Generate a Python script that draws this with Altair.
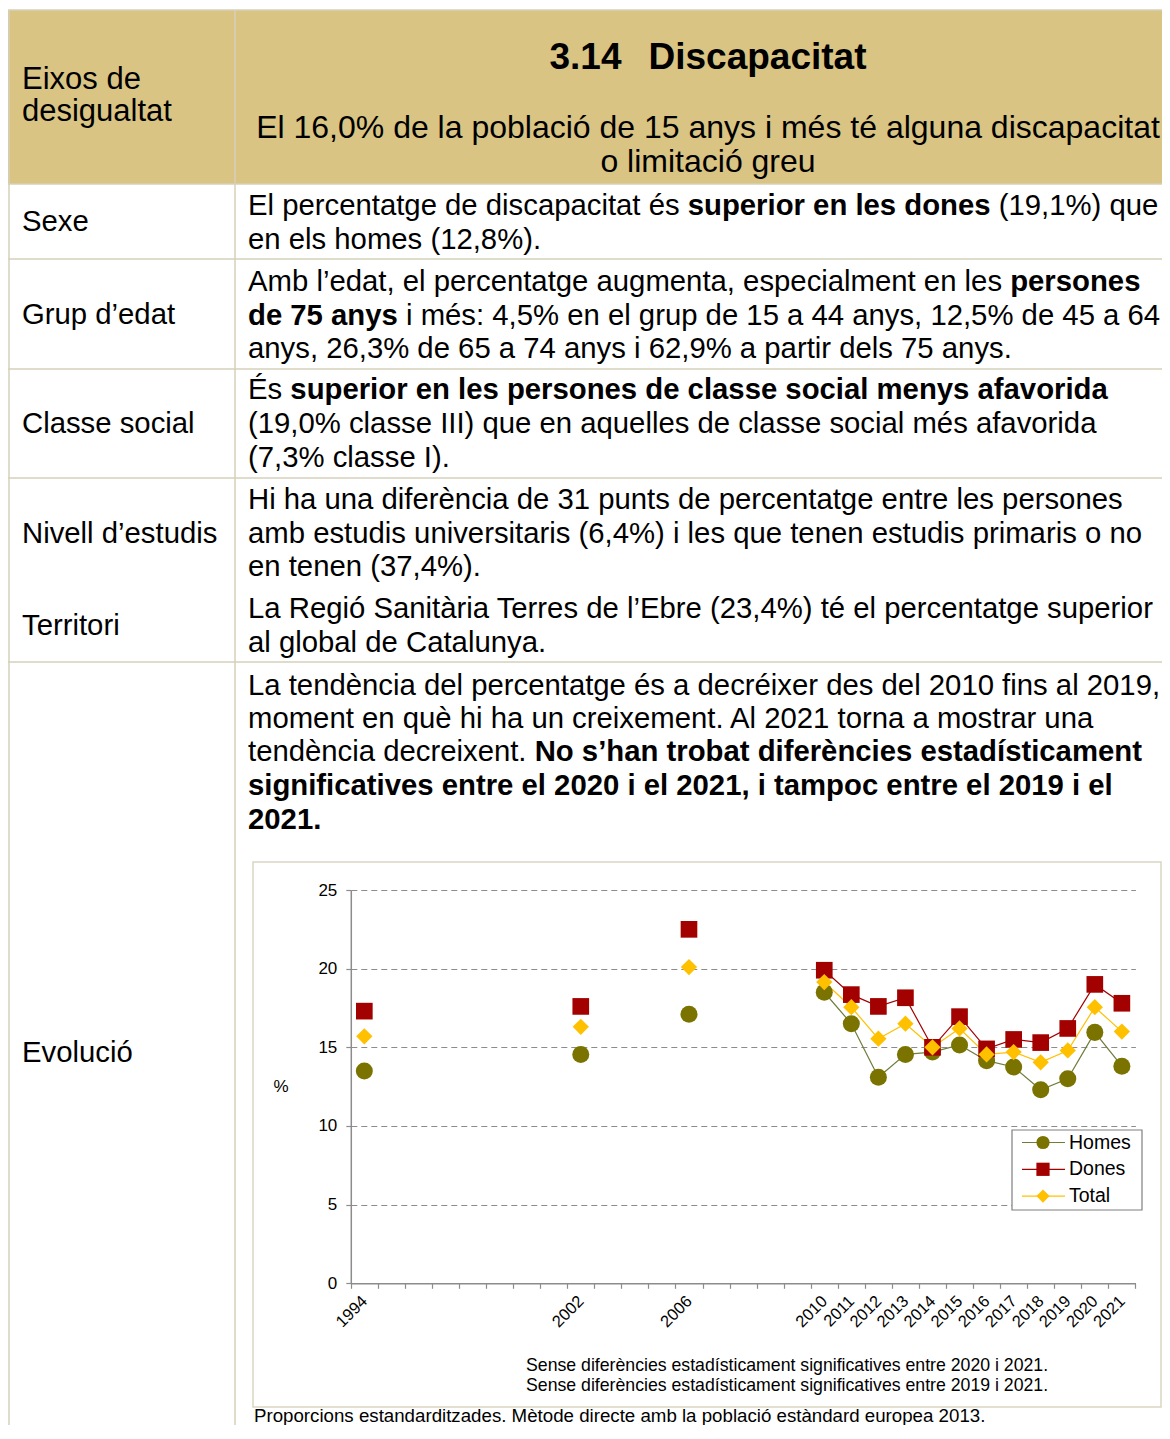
import altair as alt
import pandas as pd

# ---------------- values ----------------
years = [1994, 2002, 2006, 2010, 2011, 2012, 2013, 2014, 2015, 2016, 2017, 2018, 2019, 2020, 2021]
# category slot on the (Excel) category axis: empty categories separate the early surveys
slots = [0, 8, 12, 17, 18, 19, 20, 21, 22, 23, 24, 25, 26, 27, 28]
homes = [13.5, 14.55, 17.1, 18.5, 16.5, 13.1, 14.55, 14.7, 15.15, 14.15, 13.75, 12.3, 13.0, 15.95, 13.8]
dones = [17.3, 17.6, 22.5, 19.9, 18.35, 17.6, 18.15, 15.0, 16.95, 14.9, 15.5, 15.3, 16.2, 19.0, 17.8]
total = [15.7, 16.3, 20.1, 19.15, 17.55, 15.55, 16.5, 15.0, 16.2, 14.55, 14.7, 14.05, 14.8, 17.55, 16.0]
series = ["Homes", "Dones", "Total"]
y_ticks = [0, 5, 10, 15, 20, 25]
y_title = "%"

# ---------------- texts ----------------
header_left = ["Eixos de", "desigualtat"]
title_number = "3.14"
title_word = "Discapacitat"
subtitle = ["El 16,0% de la població de 15 anys i més té alguna discapacitat", "o limitació greu"]
row_labels = ["Sexe", "Grup d’edat", "Classe social", "Nivell d’estudis", "Territori", "Evolució"]
N, B = False, True
paragraphs = [
    [[("El percentatge de discapacitat és ", N), ("superior en les dones", B), (" (19,1%) que", N)],
     [("en els homes (12,8%).", N)]],
    [[("Amb l’edat, el percentatge augmenta, especialment en les ", N), ("persones", B)],
     [("de 75 anys", B), (" i més: 4,5% en el grup de 15 a 44 anys, 12,5% de 45 a 64", N)],
     [("anys, 26,3% de 65 a 74 anys i 62,9% a partir dels 75 anys.", N)]],
    [[("És ", N), ("superior en les persones de classe social menys afavorida", B)],
     [("(19,0% classe III) que en aquelles de classe social més afavorida", N)],
     [("(7,3% classe I).", N)]],
    [[("Hi ha una diferència de 31 punts de percentatge entre les persones", N)],
     [("amb estudis universitaris (6,4%) i les que tenen estudis primaris o no", N)],
     [("en tenen (37,4%).", N)]],
    [[("La Regió Sanitària Terres de l’Ebre (23,4%) té el percentatge superior", N)],
     [("al global de Catalunya.", N)]],
    [[("La tendència del percentatge és a decréixer des del 2010 fins al 2019,", N)],
     [("moment en què hi ha un creixement. Al 2021 torna a mostrar una", N)],
     [("tendència decreixent. ", N), ("No s’han trobat diferències estadísticament", B)],
     [("significatives entre el 2020 i el 2021, i tampoc entre el 2019 i el", B)],
     [("2021.", B)]],
]
chart_notes = ["Sense diferències estadísticament significatives entre 2020 i 2021.",
               "Sense diferències estadísticament significatives entre 2019 i 2021."]
source_note = "Proporcions estandarditzades. Mètode directe amb la població estàndard europea 2013."

# ---------------- styles / layout (page pixels) ----------------
FONT = "Liberation Sans"
OFF = 8
W, H = 1154, 1417
marker_colors = ["#7A7300", "#A30000", "#FFC000"]
line_colors = ["#6F7D3A", "#A30000", "#FFC000"]
shapes = ["circle", "square", "diamond"]
marker_sizes = [290, 265, 320]
TAN = "#D9C484"
BORDER = "#D6D1BA"
GRID = "#8C8C8C"

SIZE_BODY, SIZE_HEAD, SIZE_SUB, SIZE_TITLE = 29.3, 31, 32, 37
TEXT_X, LABEL_X = 248, 22
header_left_y = [80, 112]
title_y, title_cx, title_gap = 58, 708, 27
subtitle_y = [128, 162]
row_label_y = [222, 315, 424, 534, 626, 1053]
para_line_y = [[206, 240], [282, 316, 349], [390, 424, 458], [500, 534, 567], [609, 643],
               [686, 719, 752, 786, 820]]
row_lines_y = [184, 259, 369, 478, 662]
X0, X1 = 350.8, 1135.4     # plot x range
Y0, Y25 = 1283.3, 890.0    # plot y for 0 and 25
FRAME = (253, 1161, 862, 1407)
notes_y = [1366, 1386]
source_y = 1416


def P(v):
    return v - OFF


def _table(groups):
    d = {}
    for chars, w in groups:
        for c in chars:
            d[c] = w
    return d


REG_W = _table([(" ,.:;!/[]ftIíì", 278), ("ijl’‘", 222), ("'", 191), ("r()-", 333),
                ("ckvsxyzJç", 500), ("abdeghnopqu0123456789àáèéòóú?", 556), ("FTZ", 611),
                ("ABEKPSVXYÉÀÈ", 667), ("CDHNRUw", 722), ("GOQ", 778), ("mM", 833), ("%", 889),
                ("W", 944), ("L", 556)])
BOLD_W = _table([(" ,.;!ijlIíì’/", 278), ("'", 238), ("ft():-", 333), ("r", 389), ("z", 500),
                 ("acekvsxyJçàáèé0123456789", 556), ("bdghnopquòóúFTZL", 611),
                 ("EPSVXYÉ", 667), ("ABCDHKNRUÀ", 722), ("wGOQ", 778), ("M", 833),
                 ("m%", 889), ("W", 944)])


def text_width(s, size, bold):
    tbl = BOLD_W if bold else REG_W
    return sum(tbl.get(c, 556) for c in s) * size / 1000.0


# ---------------- build text items ----------------
items = []


def add(x, y, text, size, bold=False, align="left"):
    items.append(dict(x=P(x), y=P(y), text=text, size=size, bold=bold, align=align))


for t, yy in zip(header_left, header_left_y):
    add(LABEL_X, yy, t, SIZE_HEAD)
tw = text_width(title_number, SIZE_TITLE, True) + title_gap + text_width(title_word, SIZE_TITLE, True)
tx = title_cx - tw / 2
add(tx, title_y, title_number, SIZE_TITLE, True)
add(tx + text_width(title_number, SIZE_TITLE, True) + title_gap, title_y, title_word, SIZE_TITLE, True)
for t, yy in zip(subtitle, subtitle_y):
    add(title_cx, yy, t, SIZE_SUB, False, "center")
for t, yy in zip(row_labels, row_label_y):
    add(LABEL_X, yy, t, SIZE_BODY)
for para, ys in zip(paragraphs, para_line_y):
    for line, yy in zip(para, ys):
        cx = TEXT_X
        for seg, bold in line:
            lead = len(seg) - len(seg.lstrip(" "))
            sx = cx + text_width(" " * lead, SIZE_BODY, bold)
            add(sx, yy, seg.strip(), SIZE_BODY, bold)
            cx += text_width(seg, SIZE_BODY, bold)
for t, yy in zip(chart_notes, notes_y):
    add(526, yy, t, 17.7)
add(254, source_y, source_note, 18.7)
add(281, 1087, y_title, 17, False, "center")
text_df = pd.DataFrame(items)

one = pd.DataFrame({"k": [0]})
layers = []

# table background and borders
layers.append(alt.Chart(one).mark_rect(color=TAN).encode(
    x=alt.value(P(8)), x2=alt.value(P(1170)), y=alt.value(P(10)), y2=alt.value(P(184))))


def hline(y, xa=8, xb=1170):
    return alt.Chart(one).mark_rule(color=BORDER, strokeWidth=1.5).encode(
        x=alt.value(P(xa)), x2=alt.value(P(xb)), y=alt.value(P(y)))


def vline(x, ya=10, yb=1460):
    return alt.Chart(one).mark_rule(color=BORDER, strokeWidth=1.5).encode(
        x=alt.value(P(x)), y=alt.value(P(ya)), y2=alt.value(P(yb)))


layers.append(hline(10))
for ry in row_lines_y:
    layers.append(hline(ry))
layers.append(vline(9))
layers.append(vline(235))

# chart frame
layers.append(alt.Chart(one).mark_rect(fill="transparent", stroke="#DAD6C4", strokeWidth=1.5).encode(
    x=alt.value(P(FRAME[0])), x2=alt.value(P(FRAME[1])), y=alt.value(P(FRAME[2])), y2=alt.value(P(FRAME[3]))))

# texts
for (bold, align), g in text_df.groupby(["bold", "align"]):
    layers.append(alt.Chart(g.reset_index(drop=True)).mark_text(
        font=FONT, fontWeight="bold" if bold else "normal", align=align, baseline="middle",
        color="black").encode(
        x=alt.X("x:Q", scale=None, axis=None),
        y=alt.Y("y:Q", scale=None, axis=None),
        size=alt.Size("size:Q", scale=None, legend=None),
        text="text:N"))

# legend (custom, line + marker)
layers.append(alt.Chart(one).mark_rect(fill="white", stroke="#7F7F7F", strokeWidth=1.2).encode(
    x=alt.value(P(1012)), x2=alt.value(P(1142)), y=alt.value(P(1130)), y2=alt.value(P(1210))))
for i, (name, mc, lc, sh) in enumerate(zip(series, marker_colors, line_colors, shapes)):
    ly = P(1142.5 + i * 26.8)
    layers.append(alt.Chart(one).mark_rule(color=lc, strokeWidth=1.2).encode(
        x=alt.value(P(1022)), x2=alt.value(P(1065)), y=alt.value(ly)))
    layers.append(alt.Chart(one).mark_point(shape=sh, filled=True, color=mc, size=175, opacity=1).encode(
        x=alt.value(P(1043)), y=alt.value(ly)))
    layers.append(alt.Chart(one).mark_text(text=name, font=FONT, fontSize=19.5, align="left",
                                           baseline="middle", color="black").encode(
        x=alt.value(P(1069)), y=alt.value(ly)))

# ---------------- data chart ----------------
rows = []
for name, vals in zip(series, [homes, dones, total]):
    for yr, sl, v in zip(years, slots, vals):
        rows.append(dict(serie=name, year=yr, slot=sl, value=v))
df = pd.DataFrame(rows)

n_slots = max(slots) + 1
half = (X1 - X0) / n_slots / 2
boundaries = [s - 0.5 for s in range(n_slots + 1)]
label_expr = " : ".join(f"datum.value == {s - 0.5} ? '{y}'" for s, y in zip(slots, years)) + " : ''"

x_enc = alt.X("slot:Q",
              scale=alt.Scale(domain=[-0.5, n_slots - 0.5], range=[P(X0), P(X1)], nice=False, zero=False),
              axis=alt.Axis(values=boundaries, labelExpr=label_expr, labelAngle=315, labelAlign="right",
                            labelBaseline="middle", labelOffset=half, labelPadding=10, tickSize=5,
                            tickColor=GRID, domainColor=GRID, domainWidth=1.5, tickWidth=1.2,
                            grid=False, title=None, labelFont=FONT, labelFontSize=16.5,
                            labelColor="black", labelFlush=False, labelOverlap=False,
                            offset=-(H - P(Y0))))
y_enc = alt.Y("value:Q",
              scale=alt.Scale(domain=[0, 25], range=[P(Y0), P(Y25)], nice=False, zero=False),
              axis=alt.Axis(values=y_ticks, grid=True, gridColor=GRID, gridDash=[6, 4], gridWidth=1.2,
                            domainColor=GRID, domainWidth=1.5, tickColor=GRID, tickSize=5, tickWidth=1.2,
                            labelFont=FONT, labelFontSize=17, labelColor="black", labelPadding=9,
                            labelFlush=False, labelOverlap=False, title=None,
                            offset=-P(X0)))

lines = alt.Chart(df).transform_filter(alt.datum.year >= 2010).mark_line(strokeWidth=1.2).encode(
    x=x_enc, y=y_enc,
    stroke=alt.Stroke("serie:N", scale=alt.Scale(domain=series, range=line_colors), legend=None),
    order="slot:Q")
points = alt.Chart(df).mark_point(filled=True, opacity=1, strokeWidth=0).encode(
    x=x_enc, y=y_enc,
    fill=alt.Fill("serie:N", scale=alt.Scale(domain=series, range=marker_colors), legend=None),
    shape=alt.Shape("serie:N", scale=alt.Scale(domain=series, range=shapes), legend=None),
    size=alt.Size("serie:N", scale=alt.Scale(domain=series, range=marker_sizes), legend=None))
layers += [lines, points]

chart = alt.layer(*layers).properties(
    width=W, height=H, padding=0, background="white",
    autosize=alt.AutoSizeParams(type="none"),
).configure_view(stroke="transparent")

chart.save("out.html", embed_options={"renderer": "svg", "actions": False})
